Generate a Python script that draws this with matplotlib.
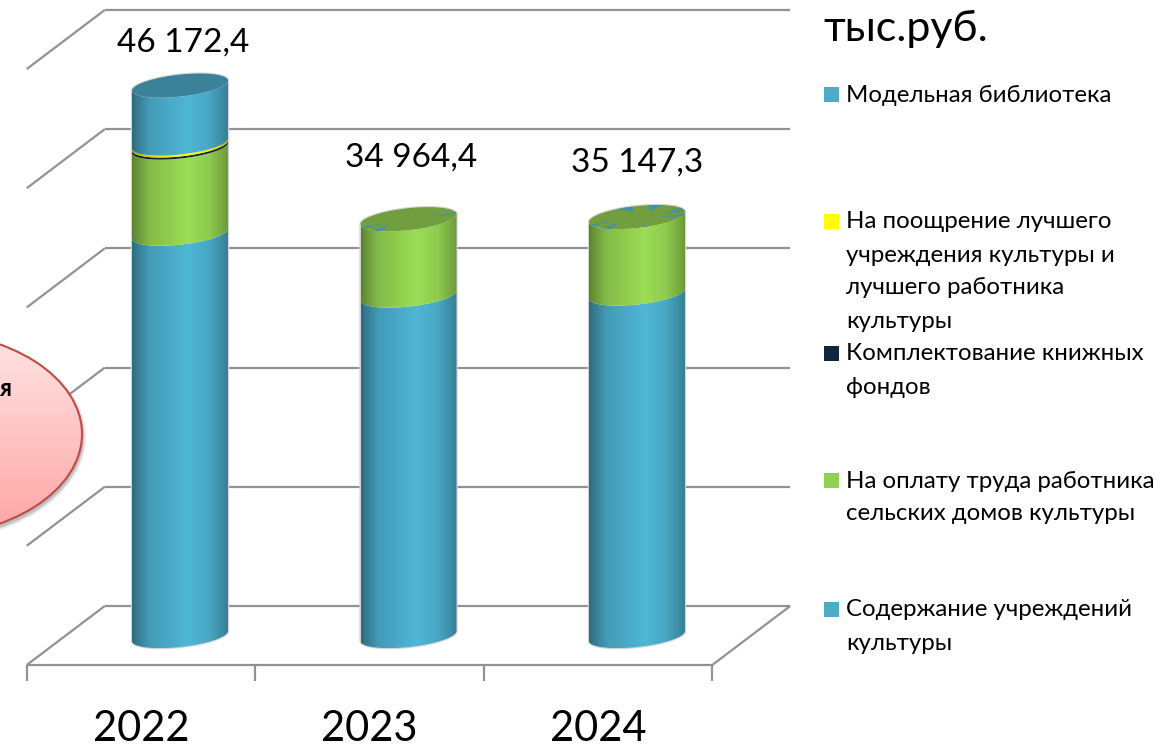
"""Stacked cylinder chart of culture funding, 2022-2024."""

import matplotlib

matplotlib.use("Agg")
import matplotlib.pyplot as plt
import numpy as np
from matplotlib.colors import to_rgb
from matplotlib.patches import Ellipse, Polygon

plt.rcParams["font.family"] = ["Lato", "Open Sans", "DejaVu Sans"]

W, H = 1173, 745

years = ["2022", "2023", "2024"]
totals = ["46 172,4", "34 964,4", "35 147,3"]
content = [33750.0, 28560.0, 28730.0]
rural_pay = [7230.0, 6404.4, 6417.3]
books = [170.0, 0.0, 0.0]
prize = [170.0, 0.0, 0.0]
library = [4852.4, 0.0, 0.0]

series_values = [content, rural_pay, books, prize, library]
series_colors = ["#4fb6d6", "#9bdd55", "#10253f", "#ffff00", "#4fb6d6"]
top_colors = {"#4fb6d6": "#3a8299", "#9bdd55": "#719e3e"}

grid_values = [0, 10000, 20000, 30000, 40000, 50000]

legend_labels = [
    ["Модельная библиотека"],
    ["На поощрение лучшего", "учреждения культуры и", "лучшего работника", "культуры"],
    ["Комплектование книжных", "фондов"],
    ["На оплату труда работника", "сельских домов культуры"],
    ["Содержание учреждений", "культуры"],
]
legend_colors = ["#4bacc6", "#ffff00", "#10253f", "#92d050", "#4bacc6"]
legend_y = [94, 221, 353, 480, 609]

# where the total labels sit, in picture pixels
label_px = [(183, 43), (411, 158), (637, 163)]

# blue slivers showing through the green lid (angle pairs, degrees)
lid_flecks = {
    1: [(2, 12), (196, 206), (222, 234)],
    2: [(3, 10), (14, 26), (58, 76), (96, 114), (194, 204), (222, 236), (279, 282), (338, 350)],
}

# scale of the picture: one category = 228.5 px, 10000 = 119.2 px
X_SCALE = 228.5
Y_SCALE = 119.2 / 10000
DEPTH_X = 78 / X_SCALE
DEPTH_Y = 59 / Y_SCALE
BASE = 29 / Y_SCALE
RX = 48 / X_SCALE
TILT = 5 / Y_SCALE
RY = 11 / Y_SCALE

SHADE_POS = [0.0, 0.04, 0.18, 0.58, 0.8, 0.93, 1.0]
SHADE_VAL = [0.58, 0.66, 0.85, 1.0, 0.92, 0.78, 0.7]


def arc(xc, v, start, stop, n=60):
    t = np.linspace(start, stop, n)
    return xc + RX * np.cos(t), v + TILT * np.cos(t) + RY * np.sin(t)


def draw_side(ax, xc, v0, v1, color):
    x0, y0 = arc(xc, v0, np.pi, 2 * np.pi)
    x1, y1 = arc(xc, v1, 2 * np.pi, np.pi)
    verts = np.column_stack([np.r_[x0, x1], np.r_[y0, y1]])
    clip = Polygon(verts, closed=True, transform=ax.transData, fc="none", ec="none")
    ax.add_patch(clip)
    shade = np.interp(np.linspace(0, 1, 200), SHADE_POS, SHADE_VAL)
    img = shade[None, :, None] * np.array(to_rgb(color))[None, None, :]
    im = ax.imshow(
        img,
        extent=(xc - RX, xc + RX, min(y0.min(), y1.min()), max(y0.max(), y1.max())),
        aspect="auto",
        zorder=3,
    )
    im.set_clip_path(clip)


def draw_cylinders(ax):
    for i in range(len(years)):
        xc = i + DEPTH_X / 2
        bottom = BASE
        top_color = None
        for vals, color in zip(series_values, series_colors):
            if vals[i] <= 0:
                continue
            draw_side(ax, xc, bottom, bottom + vals[i], color)
            bottom += vals[i]
            top_color = color
        # faint halo along the cylinder's sides
        x0, y0 = arc(xc, BASE, np.pi, 2 * np.pi)
        x1, y1 = arc(xc, bottom, 0, np.pi)
        ax.fill(np.r_[x0, x1], np.r_[y0, y1], fc="none", ec="#d4d4d4", lw=1.6, zorder=2)
        x, y = arc(xc, bottom, 0, 2 * np.pi, 120)
        ax.fill(x, y, color=top_colors[top_color], lw=0, zorder=4)
        for a0, a1 in lid_flecks.get(i, []):
            x, y = arc(xc, bottom, np.radians(a0), np.radians(a1), 6)
            px = np.r_[xc + 0.5 * (x[0] - xc), x]
            py = np.r_[bottom + 0.5 * (y[0] - bottom), y]
            ax.fill(px, py, color="#3f93ab", lw=0, zorder=5)
        lx, ly = label_px[i]
        ax.text(
            (lx - 141) / X_SCALE,
            (665 - ly) / Y_SCALE,
            totals[i],
            fontsize=24,
            ha="center",
            va="center",
            color="black",
            zorder=6,
        )


def draw_frame(ax):
    line = {"color": "#929292", "lw": 1.6, "zorder": 1, "solid_capstyle": "butt"}
    left, right = -0.5, 2.5
    for v in grid_values:
        ax.plot([left, left + DEPTH_X], [v, v + DEPTH_Y], **line)
        ax.plot([left + DEPTH_X, right + DEPTH_X], [v + DEPTH_Y] * 2, **line)
    ax.plot([left, right], [0, 0], **line)
    ax.plot([right, right + DEPTH_X], [0, DEPTH_Y], **line)
    for x in np.arange(left, right + 1):
        ax.plot([x, x], [0, -16 / Y_SCALE], **line)
    for i, year in enumerate(years):
        ax.text(i, -5350, year, fontsize=30, ha="center", va="center", color="black")


def draw_callout(deco):
    # soft shadow, then the gradient-filled ellipse cut off by the left edge
    for grow, alpha in [(7, 0.04), (5, 0.05), (3, 0.08), (1, 0.1)]:
        deco.add_patch(
            Ellipse((-80 + 1, 434 + 3), 324 + grow, 206 + grow, fc="black", ec="none", alpha=alpha, zorder=7)
        )
    oval = Ellipse((-80, 434), 324, 206, fc="none", ec="#be4b48", lw=1.5, zorder=9)
    deco.add_patch(oval)
    grad = np.linspace(0, 1, 200)[:, None, None]
    img = (1 - grad) * np.array(to_rgb("#ffe6e6")) + grad * np.array(to_rgb("#ffa3a3"))
    im = deco.imshow(img, extent=(-242, 82, 537, 331), aspect="auto", zorder=8)
    im.set_clip_path(oval)
    deco.text(5.5, 388, "я", fontsize=17, fontweight="bold", ha="center", va="center", zorder=10)


def draw_legend(deco):
    for lines, color, y0 in zip(legend_labels, legend_colors, legend_y):
        deco.fill([824, 839, 839, 824], [y0 - 7.5, y0 - 7.5, y0 + 7.5, y0 + 7.5], color=color, lw=0)
        for k, text in enumerate(lines):
            deco.text(846, y0 + 1 + 33 * k, text, fontsize=17.3, ha="left", va="center", color="black")
    deco.text(823, 29, "тыс.руб.", fontsize=31, ha="left", va="center", color="black")


def main():
    fig = plt.figure(figsize=(W / 100, H / 100), dpi=100, facecolor="white")
    ax = fig.add_axes([0, 0, 1, 1])
    draw_frame(ax)
    draw_cylinders(ax)
    ax.set_xlim(-141 / X_SCALE, (W - 141) / X_SCALE)
    ax.set_ylim((665 - H) / Y_SCALE, 665 / Y_SCALE)
    ax.axis("off")

    deco = fig.add_axes([0, 0, 1, 1], facecolor="none")
    draw_callout(deco)
    draw_legend(deco)
    deco.set_xlim(0, W)
    deco.set_ylim(H, 0)
    deco.axis("off")

    fig.savefig("out.png", dpi=100)


if __name__ == "__main__":
    main()
